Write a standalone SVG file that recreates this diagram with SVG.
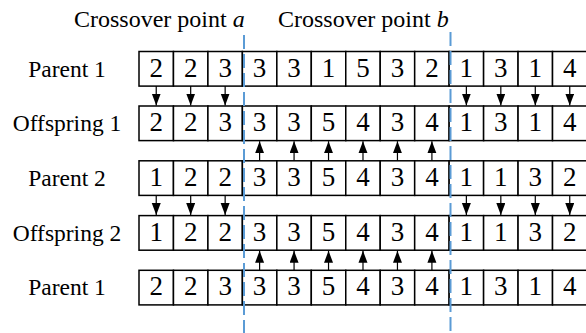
<svg xmlns="http://www.w3.org/2000/svg" width="586" height="333" viewBox="0 0 586 333">
<style>
.cell{fill:#fff;stroke:#000;stroke-width:1.5}
.num{font-family:"Liberation Serif","Times New Roman",serif;font-size:27px;text-anchor:middle;fill:#000}
.lbl{font-family:"Liberation Serif","Times New Roman",serif;font-size:23.5px;text-anchor:middle;fill:#000}
.title{font-family:"Liberation Serif","Times New Roman",serif;font-size:24px;fill:#000}
.arr{stroke:#000;stroke-width:1.2;fill:none;marker-end:url(#ah)}
.cut{stroke:#5B9BD5;stroke-width:2;stroke-dasharray:14 5;fill:none}
</style>
<defs>
<marker id="ah" markerUnits="userSpaceOnUse" markerWidth="13" markerHeight="10" refX="12" refY="4.5" orient="auto">
<path d="M0,0 L12,4.5 L0,9 z" fill="#000"/>
</marker>
<g id="row">
<rect class="cell" x="139" y="0" width="34.46" height="34.6"/>
<rect class="cell" x="173.46" y="0" width="34.46" height="34.6"/>
<rect class="cell" x="207.92" y="0" width="34.46" height="34.6"/>
<rect class="cell" x="242.38" y="0" width="34.46" height="34.6"/>
<rect class="cell" x="276.84" y="0" width="34.46" height="34.6"/>
<rect class="cell" x="311.3" y="0" width="34.46" height="34.6"/>
<rect class="cell" x="345.76" y="0" width="34.46" height="34.6"/>
<rect class="cell" x="380.22" y="0" width="34.46" height="34.6"/>
<rect class="cell" x="414.68" y="0" width="34.46" height="34.6"/>
<rect class="cell" x="449.14" y="0" width="34.46" height="34.6"/>
<rect class="cell" x="483.6" y="0" width="34.46" height="34.6"/>
<rect class="cell" x="518.06" y="0" width="34.46" height="34.6"/>
<rect class="cell" x="552.52" y="0" width="34.46" height="34.6"/>
</g>
</defs>
<rect width="586" height="333" fill="#fff"/>
<text class="title" x="74" y="27">Crossover point <tspan font-style="italic">a</tspan></text>
<text class="title" x="278" y="27">Crossover point <tspan font-style="italic">b</tspan></text>

<g id="parent1">
<text class="lbl" x="67" y="76.5">Parent 1</text>
<use href="#row" y="51.5"/>
<text class="num" y="76.5"><tspan x="156.23">2</tspan><tspan x="190.69">2</tspan><tspan x="225.15">3</tspan><tspan x="259.61">3</tspan><tspan x="294.07">3</tspan><tspan x="328.53">1</tspan><tspan x="362.99">5</tspan><tspan x="397.45">3</tspan><tspan x="431.91">2</tspan><tspan x="466.37">1</tspan><tspan x="500.83">3</tspan><tspan x="535.29">1</tspan><tspan x="569.75">4</tspan></text>
</g>

<g id="offspring1">
<text class="lbl" x="67" y="131">Offspring 1</text>
<use href="#row" y="106"/>
<text class="num" y="131"><tspan x="156.23">2</tspan><tspan x="190.69">2</tspan><tspan x="225.15">3</tspan><tspan x="259.61">3</tspan><tspan x="294.07">3</tspan><tspan x="328.53">5</tspan><tspan x="362.99">4</tspan><tspan x="397.45">3</tspan><tspan x="431.91">4</tspan><tspan x="466.37">1</tspan><tspan x="500.83">3</tspan><tspan x="535.29">1</tspan><tspan x="569.75">4</tspan></text>
</g>

<g id="parent2">
<text class="lbl" x="67" y="185.8">Parent 2</text>
<use href="#row" y="160.8"/>
<text class="num" y="185.8"><tspan x="156.23">1</tspan><tspan x="190.69">2</tspan><tspan x="225.15">2</tspan><tspan x="259.61">3</tspan><tspan x="294.07">3</tspan><tspan x="328.53">5</tspan><tspan x="362.99">4</tspan><tspan x="397.45">3</tspan><tspan x="431.91">4</tspan><tspan x="466.37">1</tspan><tspan x="500.83">1</tspan><tspan x="535.29">3</tspan><tspan x="569.75">2</tspan></text>
</g>

<g id="offspring2">
<text class="lbl" x="67" y="240.6">Offspring 2</text>
<use href="#row" y="215.6"/>
<text class="num" y="240.6"><tspan x="156.23">1</tspan><tspan x="190.69">2</tspan><tspan x="225.15">2</tspan><tspan x="259.61">3</tspan><tspan x="294.07">3</tspan><tspan x="328.53">5</tspan><tspan x="362.99">4</tspan><tspan x="397.45">3</tspan><tspan x="431.91">4</tspan><tspan x="466.37">1</tspan><tspan x="500.83">1</tspan><tspan x="535.29">3</tspan><tspan x="569.75">2</tspan></text>
</g>

<g id="parent1b">
<text class="lbl" x="67" y="295.3">Parent 1</text>
<use href="#row" y="270.3"/>
<text class="num" y="295.3"><tspan x="156.23">2</tspan><tspan x="190.69">2</tspan><tspan x="225.15">3</tspan><tspan x="259.61">3</tspan><tspan x="294.07">3</tspan><tspan x="328.53">5</tspan><tspan x="362.99">4</tspan><tspan x="397.45">3</tspan><tspan x="431.91">4</tspan><tspan x="466.37">1</tspan><tspan x="500.83">3</tspan><tspan x="535.29">1</tspan><tspan x="569.75">4</tspan></text>
</g>

<g id="connectors">
<path class="arr" d="M156.23,86.1V105.5"/><path class="arr" d="M190.69,86.1V105.5"/><path class="arr" d="M225.15,86.1V105.5"/>
<path class="arr" d="M466.37,86.1V105.5"/><path class="arr" d="M500.83,86.1V105.5"/><path class="arr" d="M535.29,86.1V105.5"/><path class="arr" d="M569.75,86.1V105.5"/>
<path class="arr" d="M259.61,160.8V141.2"/><path class="arr" d="M294.07,160.8V141.2"/><path class="arr" d="M328.53,160.8V141.2"/><path class="arr" d="M362.99,160.8V141.2"/><path class="arr" d="M397.45,160.8V141.2"/><path class="arr" d="M431.91,160.8V141.2"/>
<path class="arr" d="M156.23,195.4V215.1"/><path class="arr" d="M190.69,195.4V215.1"/><path class="arr" d="M225.15,195.4V215.1"/>
<path class="arr" d="M466.37,195.4V215.1"/><path class="arr" d="M500.83,195.4V215.1"/><path class="arr" d="M535.29,195.4V215.1"/><path class="arr" d="M569.75,195.4V215.1"/>
<path class="arr" d="M259.61,270.3V250.8"/><path class="arr" d="M294.07,270.3V250.8"/><path class="arr" d="M328.53,270.3V250.8"/><path class="arr" d="M362.99,270.3V250.8"/><path class="arr" d="M397.45,270.3V250.8"/><path class="arr" d="M431.91,270.3V250.8"/>
</g>

<g id="crossover-lines">
<path class="cut" d="M244,35V333"/>
<path class="cut" d="M450.5,32V333"/>
</g>
</svg>
